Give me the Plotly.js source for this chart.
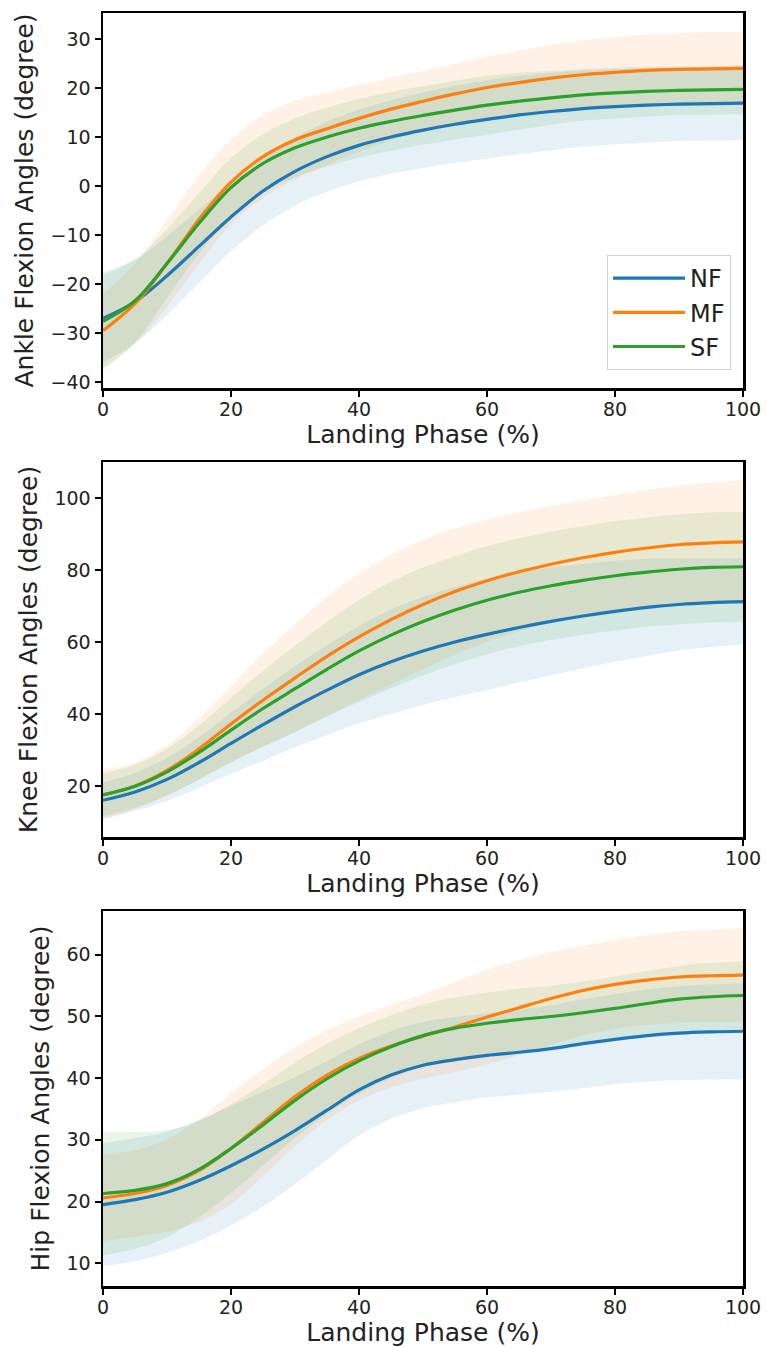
<!DOCTYPE html>
<html>
<head>
<meta charset="utf-8">
<script src="https://cdn.plot.ly/plotly-3.0.1.min.js"></script>
<style>html,body{margin:0;padding:0;background:#fff;}#chart{width:766px;height:1347px;}</style>
</head>
<body>
<div id="chart"></div>
<script>
// ---- data ----
const phase = [0, 5, 10, 15, 20, 25, 30, 35, 40, 45, 50, 55, 60, 65, 70, 75, 80, 85, 90, 95, 100];
const seriesNames = ["NF", "MF", "SF"];
const xTicks = [0, 20, 40, 60, 80, 100];

// Ankle (mean and standard deviation)
const ankleNF   = [-27, -23.6, -18.3, -12.3, -6.3, -1.0, 3.0, 6.0, 8.3, 10.0, 11.4, 12.6, 13.6, 14.5, 15.2, 15.8, 16.2, 16.5, 16.7, 16.8, 16.9];
const ankleNFsd = [9, 8.5, 8, 7.5, 7, 7, 7, 7.1, 7.3, 7.5, 7.7, 7.9, 8, 8, 7.9, 7.8, 7.7, 7.6, 7.5, 7.5, 7.5];
const ankleMF   = [-29.5, -24, -15.8, -6.8, 0.8, 6.0, 9.4, 11.7, 13.8, 15.7, 17.3, 18.8, 20.1, 21.1, 22.0, 22.7, 23.2, 23.6, 23.8, 23.9, 24.0];
const ankleMFsd = [7.5, 8.2, 8.8, 9, 8.7, 8.5, 8, 7.4, 6.8, 6.4, 6.2, 6.2, 6.3, 6.5, 6.8, 7, 7.2, 7.3, 7.4, 7.5, 7.5];
const ankleSF   = [-27.6, -23.4, -15.8, -7.6, -0.3, 4.6, 7.8, 10.0, 11.8, 13.2, 14.4, 15.5, 16.5, 17.3, 18.0, 18.6, 19.0, 19.3, 19.5, 19.6, 19.7];
const ankleSFsd = [10, 8.5, 7, 6.2, 6, 6, 6, 6, 6, 6, 6, 6, 6, 5.8, 5.5, 5.3, 5.2, 5.1, 5, 5, 5];

// Knee
const kneeNF   = [16, 18.3, 21.8, 26.5, 31.8, 37, 42, 46.6, 50.9, 54.5, 57.5, 60, 62.1, 64, 65.7, 67.2, 68.5, 69.6, 70.4, 70.9, 71.2];
const kneeNFsd = [5, 5.3, 6, 7, 8.5, 10, 11.3, 12.5, 13.5, 14.5, 15, 15.3, 15.5, 15.3, 15, 14.5, 14, 13.5, 12.8, 12.3, 12];
const kneeMF   = [17.5, 20, 24.3, 30.3, 37.2, 43.8, 50, 56, 61.4, 66.2, 70.4, 74, 77, 79.5, 81.6, 83.4, 84.9, 86.1, 87, 87.5, 87.8];
const kneeMFsd = [7, 6.5, 7, 8.5, 10.5, 13, 15, 16.5, 17.5, 18, 18, 17.5, 17, 16.5, 16.2, 16, 16, 16.2, 16.5, 16.8, 17.2];
const kneeSF   = [17.5, 19.9, 23.9, 29.3, 35.5, 41.5, 47, 52.4, 57.5, 61.9, 65.7, 68.9, 71.6, 73.8, 75.6, 77.1, 78.4, 79.4, 80.2, 80.7, 80.9];
const kneeSFsd = [6, 6, 6.5, 7.5, 9, 10.5, 12, 13.2, 14.2, 14.8, 15, 15, 15, 15, 15, 15.1, 15.2, 15.2, 15.3, 15.3, 15.3];

// Hip
const hipNF   = [19.5, 20.3, 21.5, 23.4, 25.8, 28.5, 31.5, 34.8, 38.1, 40.5, 42.1, 43.0, 43.7, 44.2, 44.8, 45.6, 46.3, 46.9, 47.3, 47.5, 47.6];
const hipNFsd = [10, 10, 9.8, 9.8, 9.7, 9.3, 8.7, 8, 7.4, 7.1, 7, 6.9, 6.8, 6.9, 7, 7.2, 7.3, 7.5, 7.6, 7.7, 7.8];
const hipMF   = [20.6, 21.3, 22.6, 25, 28.6, 32.8, 37, 40.5, 43.2, 45.2, 46.8, 48.3, 49.9, 51.4, 52.9, 54.2, 55.2, 55.9, 56.4, 56.6, 56.7];
const hipMFsd = [7, 7, 7.5, 8.3, 9, 8.7, 8, 7.3, 6.8, 6.7, 6.9, 7.3, 7.7, 7.7, 7.5, 7.3, 7.2, 7.3, 7.4, 7.5, 7.6];
const hipSF   = [21.3, 21.8, 22.9, 25.2, 28.6, 32.4, 36.4, 39.9, 42.8, 45.1, 46.9, 48.1, 48.9, 49.5, 50.0, 50.6, 51.3, 52.1, 52.8, 53.2, 53.4];
const hipSFsd = [10, 9.5, 8.7, 7.8, 7.2, 6.6, 6.1, 5.7, 5.3, 5.1, 5, 5, 5, 5, 5, 5.1, 5.2, 5.3, 5.4, 5.5, 5.5];

const yTitles = ["Ankle Flexion Angles (degree)", "Knee Flexion Angles (degree)", "Hip Flexion Angles (degree)"];
const xTitle = "Landing Phase (%)";

// ---- styling ----
const lineColors = ["#1f77b4", "#ff7f0e", "#2ca02c"];
const fillColors = ["rgba(31,119,180,0.11)", "rgba(255,127,14,0.11)", "rgba(44,160,44,0.11)"];
const FONT = "DejaVu Sans, sans-serif";

const panels = [
  {means: [ankleNF, ankleMF, ankleSF], sds: [ankleNFsd, ankleMFsd, ankleSFsd]},
  {means: [kneeNF, kneeMF, kneeSF], sds: [kneeNFsd, kneeMFsd, kneeSFsd]},
  {means: [hipNF, hipMF, hipSF], sds: [hipNFsd, hipMFsd, hipSFsd]}
];

const traces = [];
panels.forEach((p, pi) => {
  const xa = pi === 0 ? "x" : "x" + (pi + 1);
  const ya = pi === 0 ? "y" : "y" + (pi + 1);
  p.means.forEach((m, si) => {
    const sd = p.sds[si];
    const lower = m.map((v, i) => v - sd[i]);
    const upper = m.map((v, i) => v + sd[i]);
    traces.push({x: phase, y: lower, xaxis: xa, yaxis: ya, type: "scatter", mode: "lines",
      line: {width: 0, shape: "spline", smoothing: 1}, showlegend: false, hoverinfo: "skip"});
    traces.push({x: phase, y: upper, xaxis: xa, yaxis: ya, type: "scatter", mode: "lines",
      line: {width: 0, shape: "spline", smoothing: 1}, fill: "tonexty", fillcolor: fillColors[si],
      showlegend: false, hoverinfo: "skip"});
  });
  p.means.forEach((m, si) => {
    traces.push({x: phase, y: m, xaxis: xa, yaxis: ya, type: "scatter", mode: "lines",
      name: seriesNames[si], line: {color: lineColors[si], width: 3.2, shape: "spline", smoothing: 1},
      showlegend: pi === 0});
  });
});

const H = 1273;
const dom = [
  [898 / H, 1],
  [449 / H, 824 / H],
  [0, 375 / H]
];
const yRanges = [[-41.2, 35.3], [5.8, 110], [6.3, 67.1]];
const yTickVals = [[-40, -30, -20, -10, 0, 10, 20, 30], [20, 40, 60, 80, 100], [10, 20, 30, 40, 50, 60]];

const axisCommon = {
  showline: true, mirror: true, linecolor: "#000", linewidth: 2.5,
  ticks: "outside", ticklen: 6, tickwidth: 2, tickcolor: "#000",
  showgrid: false, zeroline: false,
  tickfont: {family: FONT, size: 19, color: "#222"}
};

const layout = {
  width: 766, height: 1347,
  margin: {l: 103, r: 23, t: 13, b: 61},
  paper_bgcolor: "#fff", plot_bgcolor: "#fff",
  font: {family: FONT, color: "#222"},
  legend: {
    x: 0.98125, xanchor: "right", y: (1286 - 255) / H, yanchor: "top",
    traceorder: "normal", itemwidth: 72,
    bgcolor: "rgba(255,255,255,0.8)", bordercolor: "#d0d0d0", borderwidth: 1,
    font: {family: FONT, size: 24, color: "#222"}
  },
  showlegend: true
};

for (let i = 0; i < 3; i++) {
  const xk = i === 0 ? "xaxis" : "xaxis" + (i + 1);
  const yk = i === 0 ? "yaxis" : "yaxis" + (i + 1);
  const yname = i === 0 ? "y" : "y" + (i + 1);
  const xname = i === 0 ? "x" : "x" + (i + 1);
  layout[xk] = Object.assign({}, axisCommon, {
    domain: [0, 1], anchor: yname, range: [0, 100], tickvals: xTicks,
    ticklabelstandoff: -3,
    title: {text: xTitle, font: {family: FONT, size: 25, color: "#222"}, standoff: 2}
  });
  layout[yk] = Object.assign({}, axisCommon, {
    domain: dom[i], anchor: xname, range: yRanges[i], tickvals: yTickVals[i],
    ticktext: yTickVals[i].map(v => v < 0 ? "\u2212" + Math.abs(v) : String(v)),
    title: {text: yTitles[i], font: {family: FONT, size: 25, color: "#222"}, standoff: 10}
  });
}

Plotly.newPlot("chart", traces, layout, {displayModeBar: false, staticPlot: true});
</script>
</body>
</html>
